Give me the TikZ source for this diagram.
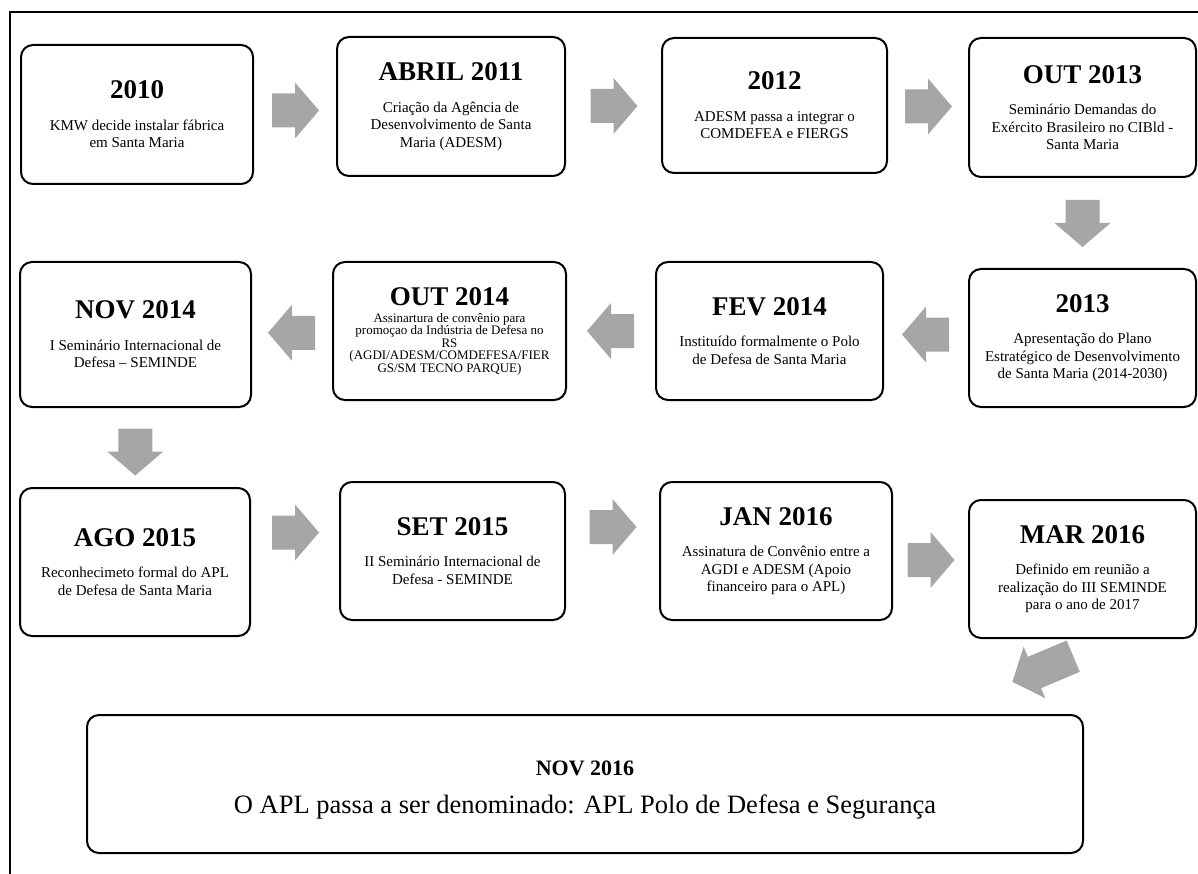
\documentclass[tikz,border=0pt]{standalone}
\usepackage{fontspec}
\setmainfont{Liberation Serif}
\usetikzlibrary{calc}
\definecolor{arrowgray}{RGB}{166,166,166}
\newcommand\yeartitle[1]{{\fontsize{27}{27}\selectfont\bfseries #1}}
\tikzset{
  event/.style={draw, line width=2pt, rounded corners=12pt, fill=white,
    align=center, inner sep=0pt, font=\fontsize{15}{17.5}\selectfont},
  smallbody/.style={font=\fontsize{13}{12.5}\selectfont},
  pics/blockarrow/.style={code={
    \fill[arrowgray] (-#1,-17) -- (0,-17) -- (0,-28) -- (24,0) -- (0,28)
      -- (0,17) -- (-#1,17) -- cycle;}},
}
\begin{document}
\begin{tikzpicture}[x=1pt,y=-1pt]
\useasboundingbox (0,0) rectangle (1198,874);
% outer frame
\draw[line width=2pt] (1198,12) -- (10,12) -- (10,874);

% first row
\node[event, minimum width=232, minimum height=139] (b1) at (137,114.5)
  {\yeartitle{2010}\\[14pt]KMW decide instalar fábrica\\em Santa Maria};
\node[event, minimum width=228, minimum height=139] (b2) at (451,106.5)
  {\yeartitle{ABRIL 2011}\\[14pt]Criação da Agência de\\Desenvolvimento de Santa\\Maria (ADESM)};
\node[event, minimum width=225, minimum height=135] (b3) at (774.5,105.5)
  {\yeartitle{2012}\\[14pt]ADESM passa a integrar o\\COMDEFEA e FIERGS};
\node[event, minimum width=227, minimum height=139] (b4) at (1082.5,107.5)
  {\yeartitle{OUT 2013}\\[14pt]Seminário Demandas do\\Exército Brasileiro no CIBld -\\Santa Maria};

% second row
\node[event, minimum width=227, minimum height=138] (b5) at (1082.5,338)
  {\yeartitle{2013}\\[14pt]Apresentação do Plano\\Estratégico de Desenvolvimento\\de Santa Maria (2014-2030)};
\node[event, minimum width=227, minimum height=138] (b6) at (769.5,331)
  {\yeartitle{FEV 2014}\\[14pt]Instituído formalmente o Polo\\de Defesa de Santa Maria};
\node[event, smallbody, minimum width=233, minimum height=138] (b7) at (449.5,331)
  {\yeartitle{OUT 2014}\\[4.5pt]Assinartura de convênio para\\promoçao da Indústria de Defesa no\\RS\\(AGDI/ADESM/COMDEFESA/FIER\\GS/SM TECNO PARQUE)};
\node[event, minimum width=231, minimum height=145] (b8) at (135.5,334.5)
  {\yeartitle{NOV 2014}\\[14pt]I Seminário Internacional de\\Defesa – SEMINDE};

% third row
\node[event, minimum width=230, minimum height=148] (b9) at (135,562)
  {\yeartitle{AGO 2015}\\[14pt]Reconhecimeto formal do APL\\de Defesa de Santa Maria};
\node[event, minimum width=225, minimum height=138] (b10) at (452.5,551)
  {\yeartitle{SET 2015}\\[14pt]II Seminário Internacional de\\Defesa - SEMINDE};
\node[event, minimum width=232, minimum height=138] (b11) at (776,551)
  {\yeartitle{JAN 2016}\\[14pt]Assinatura de Convênio entre a\\AGDI e ADESM (Apoio\\financeiro para o APL)};
\node[event, minimum width=227, minimum height=138] (b12) at (1082.5,569)
  {\yeartitle{MAR 2016}\\[14pt]Definido em reunião a\\realização do III SEMINDE\\para o ano de 2017};

% final milestone: frame and its text
\node[event, minimum width=996, minimum height=138] (b13) at (585,784) {};
\node[align=center, inner sep=0pt, font=\fontsize{15}{17.5}\selectfont] (t13)
  at ($(b13.center)+(0,6)$)
  {{\fontsize{22}{22}\selectfont\bfseries NOV 2016}\\[18pt]{\fontsize{26.5}{26.5}\selectfont O APL passa a ser denominado: APL Polo de Defesa e Segurança}};

% block arrows between milestones
\pic at ($(b1.east)!0.5!(b2.west)$) {blockarrow=23};
\pic at ($(b2.east)!0.5!(b3.west)$) {blockarrow=23};
\pic at ($(b3.east)!0.5!(b4.west)$) {blockarrow=23};
\pic[rotate=-90] at ($(b4.south)!0.5!(b5.north)$) {blockarrow=23};
\pic[rotate=180] at ($(b5.west)!0.5!(b6.east)$) {blockarrow=23};
\pic[rotate=180] at ($(b6.west)!0.5!(b7.east)$) {blockarrow=23};
\pic[rotate=180] at ($(b7.west)!0.5!(b8.east)$) {blockarrow=23};
\pic[rotate=-90] at ($(b8.south)!0.5!(b9.north)+(0,4)$) {blockarrow=23};
\pic at ($(b9.east)!0.5!(b10.west)+(0,-24)$) {blockarrow=23};
\pic at ($(b10.east)!0.5!(b11.west)+(0,-24)$) {blockarrow=23};
\pic at ($(b11.east)!0.5!(b12.west)$) {blockarrow=23};
\pic[rotate=202.9] at ($(b12.south)+(-48,33.5)$) {blockarrow=42};
\end{tikzpicture}
\end{document}
